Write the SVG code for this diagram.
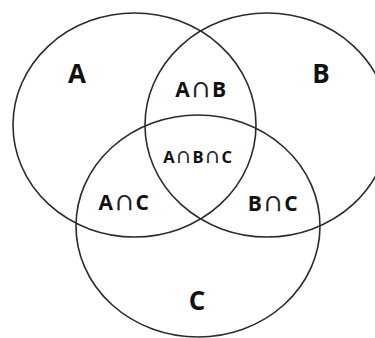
<svg xmlns="http://www.w3.org/2000/svg" width="375" height="338" viewBox="0 0 375 338">
<style>
.set{fill:none;stroke:#2b2b2b;stroke-width:1.6}
.lbl{font-family:"Open Sans","DejaVu Sans",sans-serif;font-weight:bold;fill:#111;text-anchor:middle}
.big{font-size:26px}
.mid{font-size:21px;letter-spacing:0.6px}
.sm{font-size:16.5px;letter-spacing:0.6px}
.cap{font-family:"Liberation Sans",sans-serif;font-size:1.4em;stroke:#111;stroke-width:0.5px}
</style>
<rect width="375" height="338" fill="#fff"/>
<g id="setA"><ellipse class="set" cx="134.5" cy="125" rx="121.5" ry="112"/><text class="lbl big" x="77" y="83">A</text></g>
<g id="setB"><ellipse class="set" cx="267" cy="125" rx="122" ry="112"/><text class="lbl big" x="321" y="83">B</text></g>
<g id="setC"><ellipse class="set" cx="198" cy="226" rx="122" ry="111"/><text class="lbl big" x="197" y="310">C</text></g>
<g id="regions">
<text class="lbl mid" x="201" y="97">A<tspan class="cap">∩</tspan>B</text>
<text class="lbl sm" x="198" y="163">A<tspan class="cap">∩</tspan>B<tspan class="cap">∩</tspan>C</text>
<text class="lbl mid" x="124" y="210">A<tspan class="cap">∩</tspan>C</text>
<text class="lbl mid" x="273" y="211">B<tspan class="cap">∩</tspan>C</text>
</g>
</svg>
